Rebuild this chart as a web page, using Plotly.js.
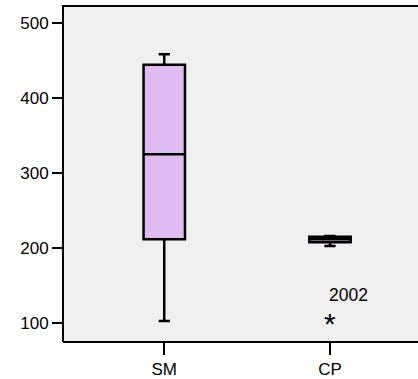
<!DOCTYPE html>
<html>
<head>
<meta charset="utf-8">
<script src="https://cdn.plot.ly/plotly-3.0.1.min.js"></script>
<style>html,body{margin:0;padding:0;background:#fff;overflow:hidden;}#chart{width:418px;height:379px;}</style>
</head>
<body>
<div id="chart"></div>
<script>
// Data
const categories = ['SM', 'CP'];
const lowerWhisker = [103, 203];
const q1Values = [212, 208];
const medianValues = [325, 212];
const q3Values = [444, 215];
const upperWhisker = [458, 216];
const outlierCategory = ['CP'];
const outlierValues = [106];
const outlierLabels = ['2002'];
const yTickValues = [100, 200, 300, 400, 500];

const boxTrace = {
  type: 'box',
  x: categories,
  q1: q1Values,
  median: medianValues,
  q3: q3Values,
  lowerfence: lowerWhisker,
  upperfence: upperWhisker,
  boxpoints: false,
  fillcolor: 'rgb(223,188,241)',
  line: {color: '#000', width: 2.5},
  width: 0.25,
  whiskerwidth: 0.27,
  hoverinfo: 'skip',
  showlegend: false
};

const annotations = [];
outlierCategory.forEach((c, i) => {
  annotations.push({
    x: c, y: outlierValues[i], xref: 'x', yref: 'y',
    text: '*', showarrow: false,
    font: {family: 'Liberation Sans, Arial, sans-serif', size: 30, color: '#000'},
    yshift: -5
  });
  annotations.push({
    x: c, y: outlierValues[i], xref: 'x', yref: 'y',
    text: outlierLabels[i], showarrow: false, xanchor: 'left',
    font: {family: 'Liberation Sans, Arial, sans-serif', size: 17.5, color: '#000'},
    xshift: -3, yshift: 24
  });
});

const layout = {
  width: 418, height: 379,
  margin: {l: 63, r: 0, t: 6, b: 38, pad: 0},
  paper_bgcolor: '#ffffff',
  plot_bgcolor: '#f0f0f0',
  font: {family: 'Liberation Sans, Arial, sans-serif', size: 17, color: '#000'},
  xaxis: {
    type: 'category',
    range: [-0.611, 1.531],
    showgrid: false, zeroline: false,
    showline: true, linecolor: '#000', linewidth: 2,
    ticks: 'outside', ticklen: 12, tickwidth: 2, tickcolor: '#000',
    tickfont: {size: 17, color: '#000'}
  },
  yaxis: {
    range: [76.4, 522.3],
    tickvals: yTickValues,
    showgrid: false, zeroline: false,
    showline: false,
    ticks: 'outside', ticklen: 10, tickwidth: 2, tickcolor: '#000',
    tickfont: {size: 17, color: '#000'}
  },
  shapes: [
    {
      type: 'line', xref: 'paper', yref: 'paper',
      x0: -0.003, x1: 1.02, y0: 1, y1: 1,
      line: {color: '#000', width: 2}
    },
    {
      type: 'line', xref: 'paper', yref: 'paper',
      x0: 0, x1: 0, y0: -0.003, y1: 1.003,
      line: {color: '#000', width: 2}
    }
  ],
  annotations: annotations,
  showlegend: false
};

Plotly.newPlot('chart', [boxTrace], layout, {staticPlot: true, displayModeBar: false});
</script>
</body>
</html>
